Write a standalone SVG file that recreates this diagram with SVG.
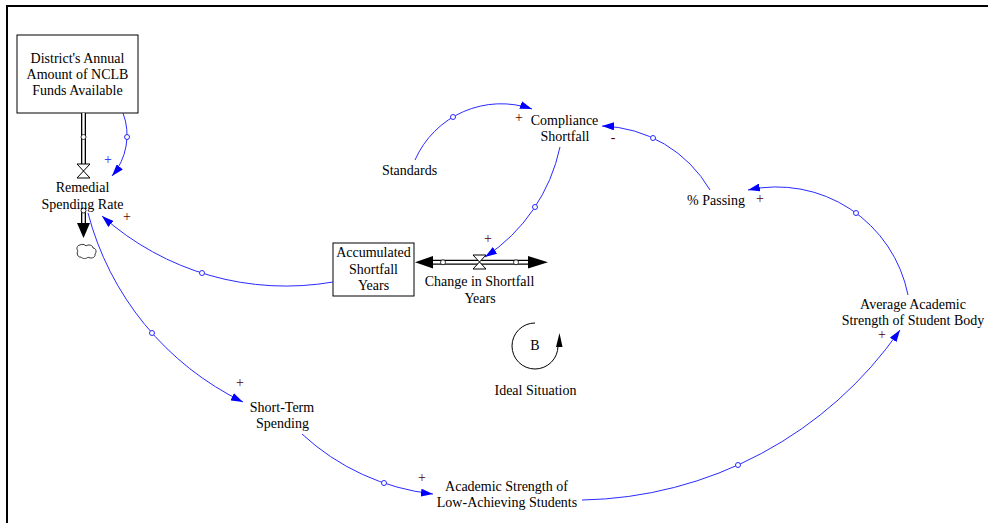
<svg xmlns="http://www.w3.org/2000/svg" width="989" height="523" viewBox="0 0 989 523">
  <style>
    .t { font-family: "Liberation Serif", "Times New Roman", serif; font-size: 14px; fill: #000; text-anchor: middle; }
    .pol { font-family: "Liberation Serif", "Times New Roman", serif; font-size: 14px; fill: #5a0000; text-anchor: middle; }
    .pol-b { fill: #2020ff; }
    .box { fill: #fff; stroke: #000; stroke-width: 1; }
    .link { fill: none; stroke: #2a2aff; stroke-width: 1; marker-end: url(#ah); }
    .hd { fill: #fff; stroke: #2a2aff; stroke-width: 1; }
    .pipe-o { stroke: #000; stroke-width: 5; fill: none; }
    .pipe-i { stroke: #fff; stroke-width: 2.4; fill: none; }
    .pipe-hd { fill: #fff; stroke: #000; stroke-width: 0.8; }
    .valve { fill: #fff; stroke: #000; stroke-width: 1; }
    .flowhead { fill: #000; }
  </style>
  <defs>
    <marker id="ah" markerUnits="userSpaceOnUse" viewBox="0 0 12 8" refX="12" refY="4" markerWidth="12" markerHeight="8" orient="auto">
      <path d="M0,0 L12,4 L0,8 Z" fill="#0000ff"/>
    </marker>
  </defs>

  <rect width="989" height="523" fill="#fff"/>

  <!-- frame -->
  <g id="frame" stroke="#000" stroke-width="2" fill="none">
    <line x1="6" y1="6" x2="988" y2="6"/>
    <line x1="7" y1="5" x2="7" y2="523"/>
  </g>

  <!-- stock: District's Annual Amount of NCLB Funds Available, draining through Remedial Spending Rate -->
  <g id="district-funds">
    <rect class="box" x="17" y="35" width="121" height="78"/>
    <text class="t" x="77.5" y="62.5">District's Annual</text>
    <text class="t" x="77.5" y="78.5">Amount of NCLB</text>
    <text class="t" x="77.5" y="94.5">Funds Available</text>
  </g>

  <g id="remedial-spending-rate">
    <line class="pipe-o" x1="83.5" y1="113" x2="83.5" y2="164"/>
    <line class="pipe-i" x1="83.5" y1="113" x2="83.5" y2="164"/>
    <line class="pipe-o" x1="83.5" y1="208" x2="83.5" y2="225"/>
    <line class="pipe-i" x1="83.5" y1="208" x2="83.5" y2="225"/>
    <circle class="pipe-hd" cx="83.5" cy="137" r="2.5"/>
    <circle class="pipe-hd" cx="83.5" cy="210.5" r="2.5"/>
    <path class="valve" d="M77,164 L90,164 L77,178 L90,178 Z"/>
    <path class="flowhead" d="M77,223 L90,223 L83.5,238 Z"/>
    <!-- sink cloud -->
    <path d="M80,245 c-3,0 -4,4 -2,6 c-2,2 0,7 3,6 c1,2 6,2 7,0 c2,2 8,1 7,-3 c2,-2 1,-6 -2,-6 c0,-3 -5,-4 -7,-2 c-1,-2 -5,-2 -6,-1 z" fill="#fff" stroke="#333" stroke-width="1"/>
    <text class="t" x="82.5" y="192">Remedial</text>
    <text class="t" x="82.5" y="208.5">Spending Rate</text>
  </g>

  <!-- stock: Accumulated Shortfall Years with its flow -->
  <g id="accumulated-shortfall-years">
    <rect class="box" x="333" y="243" width="81" height="53"/>
    <text class="t" x="373.5" y="257">Accumulated</text>
    <text class="t" x="373.5" y="273.5">Shortfall</text>
    <text class="t" x="373.5" y="290">Years</text>
  </g>

  <g id="change-in-shortfall-years">
    <line class="pipe-o" x1="430" y1="262.3" x2="531" y2="262.3"/>
    <line class="pipe-i" x1="430" y1="262.3" x2="531" y2="262.3"/>
    <circle class="pipe-hd" cx="443" cy="262.3" r="2.5"/>
    <circle class="pipe-hd" cx="516" cy="262.3" r="2.5"/>
    <path class="flowhead" d="M415,262.3 L433,256 L433,268.5 Z"/>
    <path class="flowhead" d="M548,262.3 L528,256 L528,268.5 Z"/>
    <path class="valve" d="M473,255 L486,255 L473,269 L486,269 Z"/>
    <text class="t" x="479.5" y="286">Change in Shortfall</text>
    <text class="t" x="480" y="302.5">Years</text>
  </g>

  <g id="standards">
    <text class="t" x="409.5" y="175">Standards</text>
  </g>

  <g id="compliance-shortfall">
    <text class="t" x="564.5" y="125">Compliance</text>
    <text class="t" x="565" y="140.5">Shortfall</text>
  </g>

  <g id="pct-passing">
    <text class="t" x="716" y="204.5">% Passing</text>
  </g>

  <g id="average-academic-strength">
    <text class="t" x="913" y="308.5">Average Academic</text>
    <text class="t" x="913" y="325">Strength of Student Body</text>
  </g>

  <g id="short-term-spending">
    <text class="t" x="282" y="412">Short-Term</text>
    <text class="t" x="282.5" y="428">Spending</text>
  </g>

  <g id="academic-strength-low">
    <text class="t" x="506.5" y="490.5">Academic Strength of</text>
    <text class="t" x="507" y="507">Low-Achieving Students</text>
  </g>

  <!-- balancing loop marker -->
  <g id="loop-ideal-situation">
    <path d="M535,323 A23,23 0 1,0 558,346" fill="none" stroke="#000" stroke-width="1"/>
    <path d="M559.5,333 L562.5,347 L556,347 Z" fill="#000"/>
    <text class="t" x="535" y="350">B</text>
    <text class="t" x="535.5" y="394.5">Ideal Situation</text>
  </g>

  <!-- causal links -->
  <g id="connectors">
    <path class="link" d="M123,113 A63,63 0 0,1 112,176"/>
    <path class="link" d="M333,282 A276,276 0 0,1 102,216"/>
    <path class="link" d="M88,213 A292,292 0 0,0 243,402"/>
    <path class="link" d="M302,434 A230,230 0 0,0 433,494"/>
    <path class="link" d="M582,500 A395,395 0 0,0 900,330"/>
    <path class="link" d="M908,295 A134,134 0 0,0 748,190"/>
    <path class="link" d="M710,190 A129,129 0 0,0 602,126"/>
    <path class="link" d="M415,160 A94,94 0 0,1 532,109"/>
    <path class="link" d="M560,147 A175,175 0 0,1 485,257"/>

    <circle class="hd" cx="127" cy="137" r="2.5"/>
    <circle class="hd" cx="202" cy="273" r="2.5"/>
    <circle class="hd" cx="152" cy="333" r="2.5"/>
    <circle class="hd" cx="384" cy="483" r="2.5"/>
    <circle class="hd" cx="738" cy="465" r="2.5"/>
    <circle class="hd" cx="856" cy="213" r="2.5"/>
    <circle class="hd" cx="653" cy="138" r="2.5"/>
    <circle class="hd" cx="453" cy="117" r="2.5"/>
    <circle class="hd" cx="535" cy="207" r="2.5"/>

    <text class="pol pol-b" x="108" y="163.5">+</text>
    <text class="pol" x="127" y="221">+</text>
    <text class="pol" x="240" y="386.5">+</text>
    <text class="pol" x="422" y="481.5">+</text>
    <text class="pol" x="882" y="338.5">+</text>
    <text class="pol" x="760" y="202.5">+</text>
    <text class="pol" x="613" y="141.5">-</text>
    <text class="pol" x="519" y="121.5">+</text>
    <text class="pol" x="488" y="242.5">+</text>
  </g>
</svg>
